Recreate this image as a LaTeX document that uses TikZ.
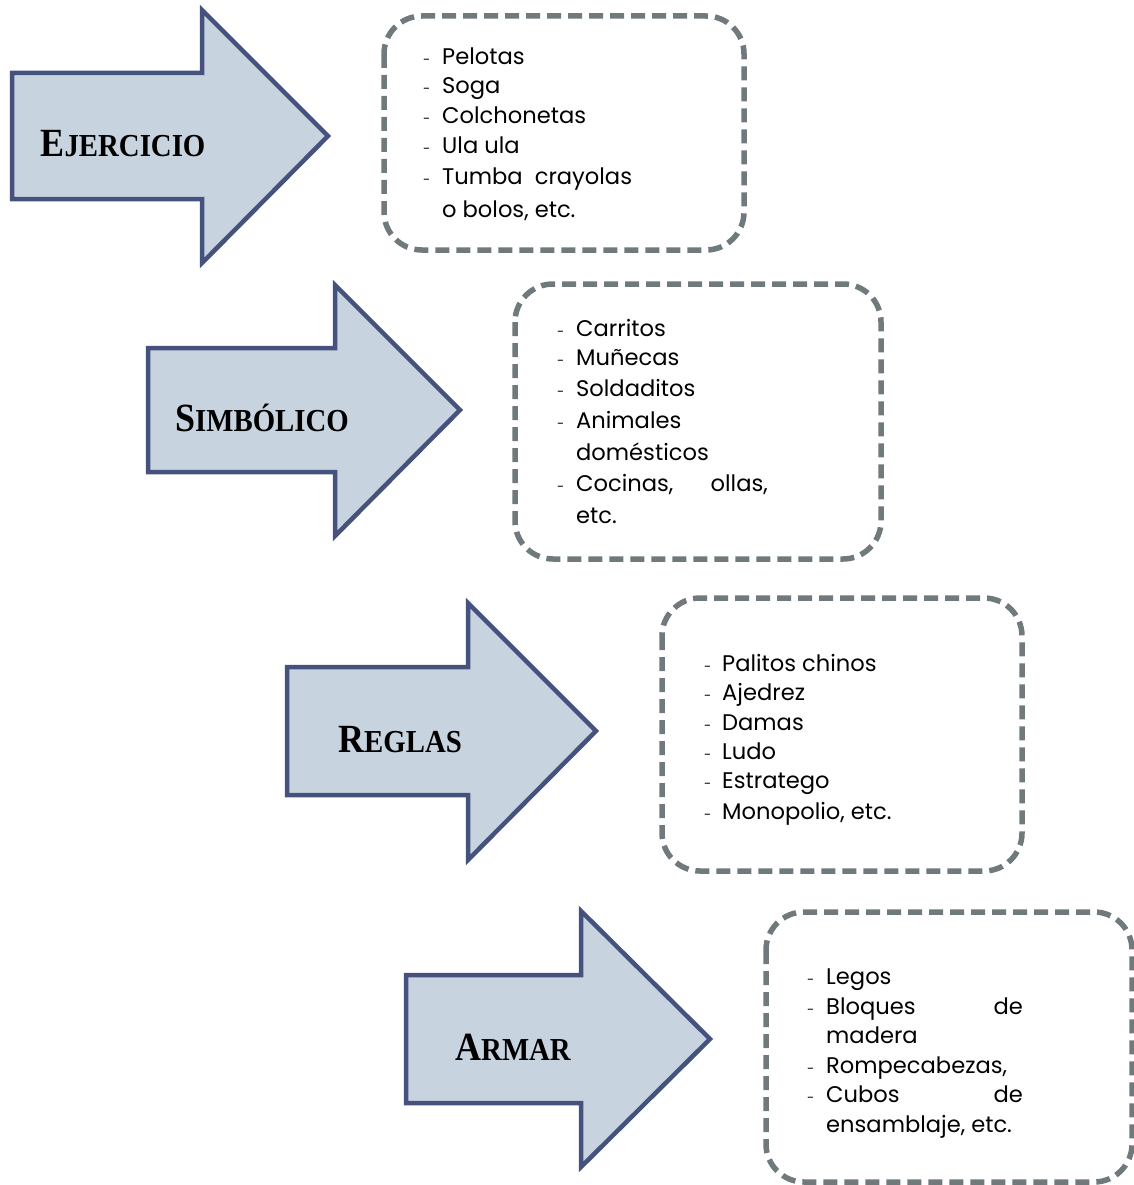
\documentclass[tikz,border=0pt]{standalone}
\usepackage{fontspec}
\setmainfont{Poppins}
\newfontfamily\labfont[FakeStretch=0.9]{Liberation Serif}
\definecolor{arrowline}{HTML}{46527E}
\definecolor{arrowfill}{HTML}{C8D3E0}
\definecolor{boxline}{HTML}{707A7D}
\begin{document}
\begin{tikzpicture}[x=1pt,y=-1pt,
  arrowshape/.style={draw=arrowline,fill=arrowfill,line width=4.5pt,line join=miter},
  listbox/.style={draw=boxline,line width=5.5pt,dash pattern=on 14pt off 7pt,rounded corners=38pt},
  item/.style={anchor=base west,inner sep=0pt,font=\fontsize{22.6}{26}\selectfont},
  itemr/.style={anchor=base east,inner sep=0pt,font=\fontsize{22.6}{26}\selectfont},
  dashmark/.style={anchor=base west,inner sep=0pt,font=\fontsize{13}{15}\selectfont},
  lab/.style={anchor=base,inner sep=0pt,font=\labfont\bfseries}
]
\useasboundingbox (0,0) rectangle (1134,1185);
\newcommand{\bigsc}[2]{{\fontsize{40}{44}\selectfont #1}{\fontsize{32}{36}\selectfont #2}}

% arrows
\draw[arrowshape] (12,73) -- (202,73) -- (202,10) -- (328,136) -- (202,263) -- (202,199) -- (12,199) -- cycle;
\draw[arrowshape] (148,348) -- (335,348) -- (335,285) -- (460,410) -- (335,536) -- (335,472) -- (148,472) -- cycle;
\draw[arrowshape] (287,667) -- (468,667) -- (468,603) -- (596,731) -- (468,860) -- (468,795) -- (287,795) -- cycle;
\draw[arrowshape] (406,975) -- (581,975) -- (581,911) -- (710,1039) -- (581,1167) -- (581,1103) -- (406,1103) -- cycle;

\node[lab] (l1) at (123,157) {\bigsc{E}{JERCICIO}};
\node[lab] (l2) at (262,431) {\bigsc{S}{IMBÓLICO}};
\node[lab] (l3) at (400,752) {\bigsc{R}{EGLAS}};
\node[lab] (l4) at (513,1060) {\bigsc{A}{RMAR}};

% boxes
\draw[listbox] (384,16) rectangle (744,250);
\draw[listbox] (515,284) rectangle (881,559);
\draw[listbox] (662,598) rectangle (1022,871);
\draw[listbox] (766,912) rectangle (1132,1182);

% box 1
\node[dashmark] (d11) at (423,65) {-};
\node[item] (t11) at (442,65) {Pelotas};
\node[dashmark] (d12) at (423,94) {-};
\node[item] (t12) at (442,94) {Soga};
\node[dashmark] (d13) at (423,124) {-};
\node[item] (t13) at (442,124) {Colchonetas};
\node[dashmark] (d14) at (423,154) {-};
\node[item] (t14) at (442,154) {Ula ula};
\node[dashmark] (d15) at (423,185) {-};
\node[item] (t15) at (442,185) {Tumba\ \ crayolas};
\node[item] (t16) at (442,217) {o bolos, etc.};

% box 2
\node[dashmark] (d21) at (557,336) {-};
\node[item] (t21) at (576,336) {Carritos};
\node[dashmark] (d22) at (557,365) {-};
\node[item] (t22) at (576,365) {Muñecas};
\node[dashmark] (d23) at (557,396) {-};
\node[item] (t23) at (576,396) {Soldaditos};
\node[dashmark] (d24) at (557,428) {-};
\node[item] (t24) at (576,428) {Animales};
\node[item] (t25) at (576,460) {domésticos};
\node[dashmark] (d26) at (557,491) {-};
\node[item] (t26) at (576,491) {Cocinas,};
\node[itemr] (t26b) at (768,491) {ollas,};
\node[item] (t27) at (576,523) {etc.};

% box 3
\node[dashmark] (d31) at (704,671) {-};
\node[item] (t31) at (722,671) {Palitos chinos};
\node[dashmark] (d32) at (704,700) {-};
\node[item] (t32) at (722,700) {Ajedrez};
\node[dashmark] (d33) at (704,730) {-};
\node[item] (t33) at (722,730) {Damas};
\node[dashmark] (d34) at (704,759) {-};
\node[item] (t34) at (722,759) {Ludo};
\node[dashmark] (d35) at (704,788) {-};
\node[item] (t35) at (722,788) {Estratego};
\node[dashmark] (d36) at (704,819) {-};
\node[item] (t36) at (722,819) {Monopolio, etc.};

% box 4
\node[dashmark] (d41) at (807,984) {-};
\node[item] (t41) at (826,984) {Legos};
\node[dashmark] (d42) at (807,1014) {-};
\node[item] (t42) at (826,1014) {Bloques};
\node[itemr] (t42b) at (1023,1014) {de};
\node[item] (t43) at (826,1043) {madera};
\node[dashmark] (d44) at (807,1073) {-};
\node[item] (t44) at (826,1073) {Rompecabezas,};
\node[dashmark] (d45) at (807,1102) {-};
\node[item] (t45) at (826,1102) {Cubos};
\node[itemr] (t45b) at (1023,1102) {de};
\node[item] (t46) at (826,1132) {ensamblaje, etc.};
\end{tikzpicture}
\end{document}
